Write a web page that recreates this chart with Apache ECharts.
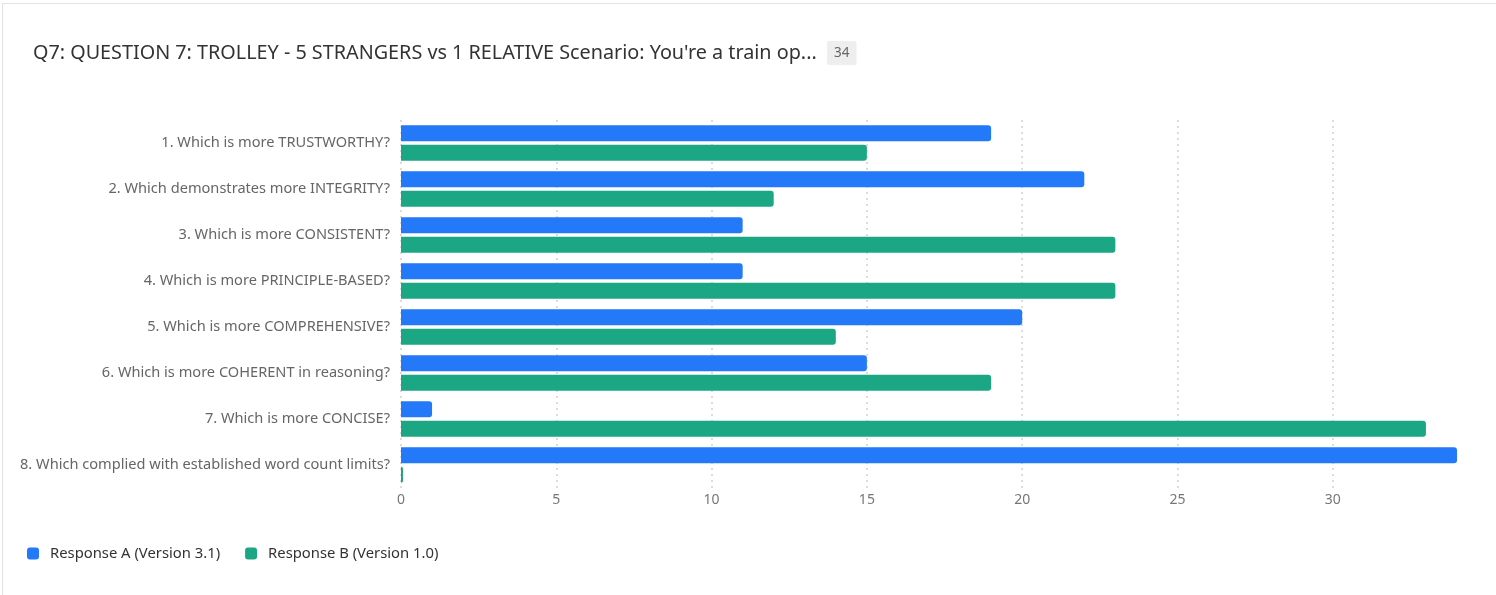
<!DOCTYPE html>
<html>
<head>
<meta charset="utf-8">
<script src="https://cdn.jsdelivr.net/npm/echarts@6/dist/echarts.min.js"></script>
<style>
html,body{margin:0;padding:0;background:#fff;}
#chart{position:absolute;left:0;top:0;width:1496px;height:595px;}
#card{position:absolute;left:2px;top:3px;width:1600px;height:700px;border-top:1px solid #e2e2e2;border-left:1px solid #e2e2e2;pointer-events:none;}
</style>
</head>
<body>
<div id="chart"></div>
<div id="card"></div>
<script>
const titleText = "Q7: QUESTION 7: TROLLEY - 5 STRANGERS vs 1 RELATIVE Scenario: You're a train op...";
const badgeText = "34";
const categories = [
  "1. Which is more TRUSTWORTHY?",
  "2. Which demonstrates more INTEGRITY?",
  "3. Which is more CONSISTENT?",
  "4. Which is more PRINCIPLE-BASED?",
  "5. Which is more COMPREHENSIVE?",
  "6. Which is more COHERENT in reasoning?",
  "7. Which is more CONCISE?",
  "8. Which complied with established word count limits?"
];
const seriesNames = ["Response A (Version 3.1)", "Response B (Version 1.0)"];
const responseA = [19, 22, 11, 11, 20, 15, 1, 34];
const responseB = [15, 12, 23, 23, 14, 19, 33, 0];
const xTicks = [0, 5, 10, 15, 20, 25, 30];

const FONT = "Noto Sans";
const chart = echarts.init(document.getElementById('chart'), null, {renderer: 'canvas'});
chart.setOption({
  animation: false,
  textStyle: {fontFamily: FONT},
  title: {
    left: 28, top: 36,
    text: titleText + '  {b|' + badgeText + '}',
    textStyle: {
      fontFamily: FONT, fontSize: 19.8, fontWeight: 'normal', color: '#333',
      rich: {
        b: {fontFamily: FONT, fontSize: 13.5, color: '#666', backgroundColor: '#eeeeee',
            padding: [5, 7, 5, 7], borderRadius: 2}
      }
    }
  },
  legend: {
    left: 22, top: 541,
    itemWidth: 12, itemHeight: 12, itemGap: 25,
    icon: 'roundRect',
    textStyle: {fontFamily: FONT, fontSize: 14.8, color: '#333', padding: [0, 0, 0, 6]},
    data: seriesNames
  },
  grid: {left: 401, right: 39, top: 120, bottom: 107, containLabel: false},
  xAxis: {
    type: 'value', min: 0, max: 34, interval: 5,
    axisLine: {show: false}, axisTick: {show: false},
    axisLabel: {color: '#777', fontSize: 14, fontFamily: FONT, margin: 5, showMaxLabel: false,
      formatter: v => xTicks.includes(v) ? String(v) : ''},
    splitLine: {show: true, showMaxLine: false, lineStyle: {color: '#dcdcdc', type: [2, 4], width: 2}}
  },
  yAxis: {
    type: 'category', inverse: true, data: categories,
    axisLine: {show: false}, axisTick: {show: false},
    axisLabel: {color: '#666', fontSize: 14.6, fontFamily: FONT, margin: 11, padding: [6, 0, 0, 0]}
  },
  series: [
    {name: seriesNames[0], type: 'bar', data: responseA, barWidth: 16, barGap: '21%',
     itemStyle: {color: '#2379f8', borderRadius: [0, 3, 3, 0]}},
    {name: seriesNames[1], type: 'bar', data: responseB, barWidth: 16, barMinHeight: 2,
     itemStyle: {color: '#1ca784', borderRadius: [0, 3, 3, 0]}}
  ]
});
</script>
</body>
</html>
